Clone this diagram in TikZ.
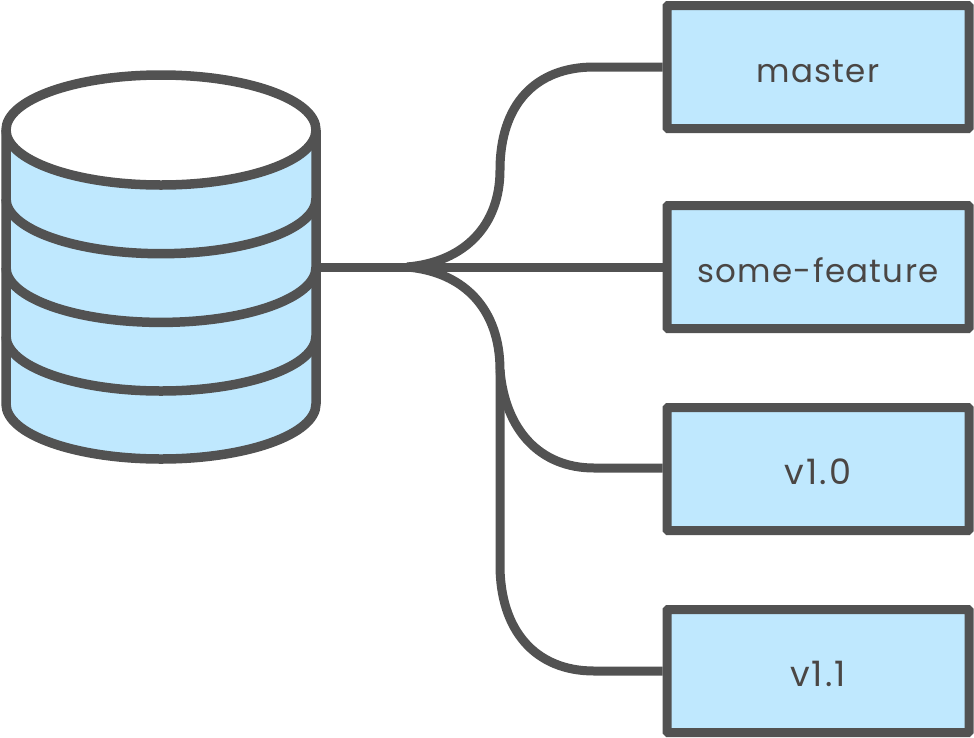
\documentclass[tikz,border=0pt]{standalone}
\usepackage{fontspec}
\setmainfont{Poppins}[LetterSpace=4]
\newfontfamily\verfont{Poppins}[LetterSpace=6]
\definecolor{ink}{HTML}{525252}
\definecolor{txt}{HTML}{4A4644}
\definecolor{sky}{HTML}{BFE8FE}
\newcommand{\lowered}[1]{\smash{\raisebox{-15pt}{#1}}}
\tikzset{
  branchbox/.style={draw=ink,fill=sky,line width=9pt,rounded corners=1pt,minimum width=302pt,minimum height=123pt,inner sep=0pt,text=txt,font=\fontsize{32.5}{38}\selectfont},
  verbox/.style={branchbox,font=\fontsize{35}{40}\verfont},
  wire/.style={draw=ink,line width=9pt},
  dbline/.style={draw=ink,line width=9.5pt,line join=round},
}
\begin{document}
\begin{tikzpicture}[x=1pt,y=-1pt]
\useasboundingbox (0,0) rectangle (974,737);
% cylinder
\fill[sky] (6,130) -- (6,404) arc[start angle=180,end angle=0,x radius=155,y radius=55] -- (316,130) -- cycle;
\draw[dbline,fill=white] (161,130) ellipse[x radius=155,y radius=55];
\draw[dbline] (6,130) -- (6,404) arc[start angle=180,end angle=0,x radius=155,y radius=55] -- (316,130);
\foreach \yy in {198.7,267.4,336}
  \draw[dbline] (6,\yy) arc[start angle=180,end angle=0,x radius=155,y radius=55];
\node[minimum width=310pt,minimum height=384pt,inner sep=0pt] (db) at (161,267) {};
% boxes
\node[branchbox] (master) at (818,67) {\lowered{master}};
\node[branchbox] (feature) at (818,267) {\lowered{some-feature}};
\node[verbox] (v10) at (818,469) {\lowered{v1.0}};
\node[verbox] (v11) at (818,671) {\lowered{v1.1}};
% connectors
\coordinate (hub) at (407,267);
\coordinate (mid) at (500,370);
\coordinate (low) at (500,565);
\draw[wire] (db.east |- feature.west) -- (feature.west);
\draw[wire] (hub) .. controls (465,262) and (500,225) .. (500,170) .. controls (500,105) and (535,67) .. (594,67) -- (master.west);
\draw[wire] (hub) .. controls (465,272) and (500,310) .. (mid) -- (low) .. controls (500,630) and (535,671) .. (594,671) -- (v11.west);
\draw[wire] (mid) .. controls (505,430) and (540,468) .. (594,468) -- (v10.west |- 0,468);
\end{tikzpicture}
\end{document}
